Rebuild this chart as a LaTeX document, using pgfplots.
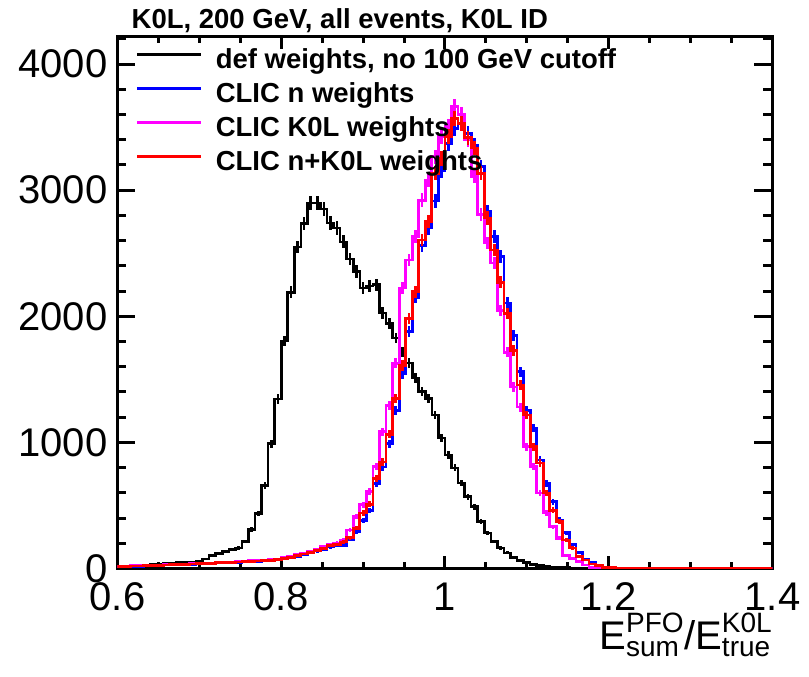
\documentclass[border=0pt]{standalone}
\usepackage{fontspec}
\setmainfont{Liberation Sans}
\usepackage{amsmath}
\usepackage{pgfplots}
\usepackage{pgfplotstable}
\pgfplotsset{compat=1.18}
\definecolor{rootblue}{RGB}{0,0,255}
\definecolor{rootmagenta}{RGB}{255,0,255}
\definecolor{rootred}{RGB}{255,0,0}

% bin centres (width 0.008); k = def weights, b = CLIC n, m = CLIC K0L, r = CLIC n+K0L
\pgfplotstableread{
x k b m r
0.596 15 17 18 18
0.604 15 17 18 18
0.612 18 17 19 18
0.620 20 19 21 20
0.628 22 19 21 20
0.636 25 21 23 22
0.644 30 23 25 24
0.652 35 25 27 26
0.660 38 27 29 28
0.668 42 28 31 30
0.676 46 30 33 32
0.684 48 32 35 34
0.692 52 34 37 36
0.700 60 36 39 38
0.708 75 38 41 40
0.716 105 40 44 42
0.724 118 43 47 45
0.732 133 46 50 48
0.740 150 48 52 50
0.748 162 50 55 52
0.756 215 52 58 55
0.764 310 55 61 58
0.772 438 57 63 60
0.780 660 59 66 62
0.788 990 63 70 66
0.796 1345 68 76 72
0.804 1805 76 85 80
0.812 2190 86 96 90
0.820 2550 95 108 100
0.828 2735 109 122 115
0.836 2900 124 137 130
0.844 2900 138 152 145
0.852 2850 152 172 160
0.860 2740 171 190 180
0.868 2700 180 200 190
0.876 2590 180 225 210
0.884 2455 230 305 245
0.892 2355 290 410 320
0.900 2225 380 505 440
0.908 2240 460 610 510
0.916 2250 675 808 712
0.924 2025 805 1085 845
0.932 1945 990 1295 1065
0.940 1828 1255 1627 1350
0.948 1718 1545 2225 1610
0.956 1630 1880 2447 1985
0.964 1510 2150 2630 2195
0.972 1402 2560 2920 2605
0.980 1350 2700 3080 2750
0.988 1217 2915 3265 3135
0.996 1035 3155 3425 3250
1.004 900 3370 3505 3425
1.012 798 3490 3665 3570
1.020 678 3530 3600 3530
1.028 570 3450 3400 3415
1.036 490 3355 3110 3335
1.044 372 3185 2805 3135
1.052 283 2830 2582 2780
1.060 213 2630 2423 2525
1.068 163 2475 2045 2270
1.076 124 2105 1715 2020
1.084 85 1850 1440 1730
1.092 63 1560 1280 1455
1.100 46 1255 966 1217
1.108 34 1112 808 966
1.116 25 860 598 836
1.124 17 676 440 598
1.132 12 530 330 463
1.140 8 385 240 371
1.148 6 283 106 226
1.156 4 188 82 162
1.164 3 126 54 94
1.172 2 70 28 68
1.180 2 46 8 36
1.188 1 20 4 22
1.196 1 10 2 10
1.204 0 4 1 5
1.212 0 2 0 3
1.220 0 1 0 2
1.228 0 0 0 1
1.236 0 0 0 0
1.244 0 0 0 0
1.252 0 0 0 0
1.260 0 0 0 0
1.268 0 0 0 0
1.276 0 0 0 0
1.284 0 0 0 0
1.292 0 0 0 0
1.300 0 0 0 0
1.308 0 0 0 0
1.316 0 0 0 0
1.324 0 0 0 0
1.332 0 0 0 0
1.340 0 0 0 0
1.348 0 0 0 0
1.356 0 0 0 0
1.364 0 0 0 0
1.372 0 0 0 0
1.380 0 0 0 0
1.388 0 0 0 0
1.396 0 0 0 0
1.404 0 0 0 0
}\hist

\begin{document}
\begin{tikzpicture}
\begin{axis}[
  at={(0,0)}, anchor=south west,
  scale only axis, width=655pt, height=531.5pt,
  xmin=0.6, xmax=1.4, ymin=0, ymax=4215,
  xtick={0.6,0.8,1,1.2,1.4}, minor x tick num=3,
  ytick={0,1000,2000,3000,4000},
  minor ytick={0,200,...,4200},
  tick align=inside,
  major tick length=18pt, minor tick length=9pt,
  x tick style={/pgfplots/major tick length=12pt, /pgfplots/minor tick length=6pt},
  tick style={line width=3pt, black},
  axis line style={line width=3pt},
  /pgf/number format/assume math mode=true,
  /pgf/number format/1000 sep={},
  yticklabel style={font=\fontsize{40}{48}\selectfont, inner sep=0pt, xshift=-10pt},
  xticklabel style={font=\fontsize{40}{48}\selectfont, inner sep=0pt, yshift=-14pt},
  xlabel={$\text{E}^{\text{PFO}}_{\text{sum}}\text{/}\text{E}^{\text{K0L}}_{\text{true}}$},
  xlabel style={at={(rel axis cs:1,0)}, anchor=base east, yshift=-81.5pt,
    inner sep=0pt, font=\fontsize{40}{48}\selectfont},
  title={K0L, 200 GeV, all events, K0L ID},
  title style={at={(rel axis cs:0,1)}, anchor=base west, xshift=14pt, yshift=2.7pt,
    inner sep=0pt, font=\bfseries\fontsize{27.5}{33}\selectfont},
  legend style={at={(0,1)}, anchor=north west, xshift=18.5pt, yshift=-11.7pt,
    draw=none, fill=none, inner sep=0pt, outer sep=0pt,
    row sep=8.1pt, column sep=13pt,
    font=\bfseries\fontsize{27.5}{33}\selectfont,
    nodes={inner sep=0pt, text height=20pt, text depth=6pt}},
  legend cell align=left,
  legend image code/.code={\draw[#1] (0pt,7.3pt) -- (64pt,7.3pt);},
]
\addplot[const plot mark mid, black, line width=2.6pt,
  error bars/.cd, y dir=both, y explicit, error mark=none,
  error bar style={line width=2.6pt, black}]
  table[x=x, y=k, y error expr={sqrt(\thisrow{k})}] {\hist};
\addplot[const plot mark mid, rootblue, line width=2.8pt,
  error bars/.cd, y dir=both, y explicit, error mark=none,
  error bar style={line width=2.8pt, rootblue}]
  table[x=x, y=b, y error expr={sqrt(\thisrow{b})}] {\hist};
\addplot[const plot mark mid, rootmagenta, line width=2.8pt,
  error bars/.cd, y dir=both, y explicit, error mark=none,
  error bar style={line width=2.8pt, rootmagenta}]
  table[x=x, y=m, y error expr={sqrt(\thisrow{m})}] {\hist};
\addplot[const plot mark mid, rootred, line width=2.8pt,
  error bars/.cd, y dir=both, y explicit, error mark=none,
  error bar style={line width=2.8pt, rootred}]
  table[x=x, y=r, y error expr={sqrt(\thisrow{r})}] {\hist};
\legend{{def weights, no 100 GeV cutoff}, CLIC n weights, CLIC K0L weights, CLIC n+K0L weights}
\end{axis}
\pgfresetboundingbox
\path[use as bounding box] (-117.5pt,-108.5pt) rectangle (691.5pt,568.5pt);
\end{tikzpicture}
\end{document}
